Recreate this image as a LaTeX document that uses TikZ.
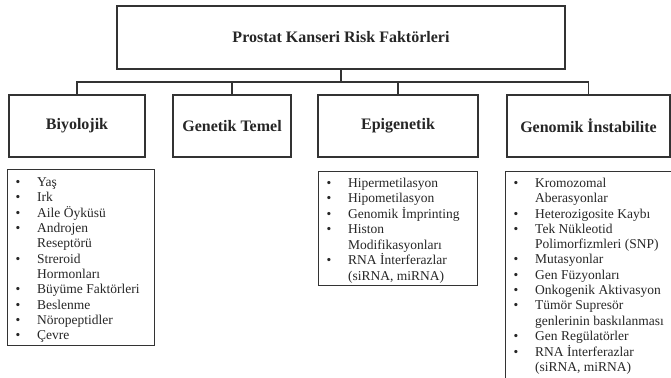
\documentclass[tikz,border=0pt]{standalone}
\usepackage{fontspec}
\setmainfont{Liberation Serif}
\usepackage{tikz}
\usetikzlibrary{positioning}

\begin{document}
\begin{tikzpicture}[x=1pt, y=-1pt, line join=miter,
    every node/.style={text=black!85},
    headbox/.style={draw=black!80, line width=2pt, inner sep=0pt, minimum height=62pt, font=\fontsize{16}{19}\selectfont\bfseries},
    listbox/.style={draw=black!80, line width=1.4pt, anchor=north west, inner sep=0pt},
    items/.style={anchor=north west, inner sep=0pt, font=\fontsize{13.5}{15.3}\selectfont},
    link/.style={draw=black!80, line width=1.5pt}]
    \useasboundingbox (0,0) rectangle (671,377);
    \clip (0,0) rectangle (671,377);

    \node[headbox, minimum width=448pt, minimum height=63pt] (risk) at (341,37.5) {Prostat Kanseri Risk Faktörleri};

    \node[headbox, minimum width=136pt] (biyo) at (77,126) {Biyolojik};
    \node[headbox, minimum width=118pt] (genetik) at (232,126) {Genetik Temel};
    \node[headbox, minimum width=160pt] (epi) at (398,126) {Epigenetik};
    \node[headbox, minimum width=163pt] (genomik) at (588.5,126) {Genomik İnstabilite};

    \coordinate (bus) at (341,82);
    \draw[link] (risk.south) -- (bus);
    \draw[link] (biyo.north) |- (bus) -| (genomik.north);
    \draw[link] (genetik.north) -- (genetik.north |- bus);
    \draw[link] (epi.north) -- (epi.north |- bus);

    \node[listbox, minimum width=147pt, minimum height=176pt] (biyolist) at (7,169) {};
    \node[items] (biyoitems) at ([xshift=8.5pt, yshift=-6.5pt]biyolist.north west) {%
        \begin{tabular}{@{}p{21.5pt}@{}l@{}}
        \textbullet & Yaş\\
        \textbullet & Irk\\
        \textbullet & Aile Öyküsü\\
        \textbullet & Androjen\\
                    & Reseptörü\\
        \textbullet & Streroid\\
                    & Hormonları\\
        \textbullet & Büyüme Faktörleri\\
        \textbullet & Beslenme\\
        \textbullet & Nöropeptidler\\
        \textbullet & Çevre
        \end{tabular}};

    \node[listbox, minimum width=159pt, minimum height=114pt] (epilist) at (318,171) {};
    \node[items] (epiitems) at ([xshift=8.5pt, yshift=-5.5pt]epilist.north west) {%
        \begin{tabular}{@{}p{21.5pt}@{}l@{}}
        \textbullet & Hipermetilasyon\\
        \textbullet & Hipometilasyon\\
        \textbullet & Genomik İmprinting\\
        \textbullet & Histon\\
                    & Modifikasyonları\\
        \textbullet & RNA İnterferazlar\\
                    & (siRNA, miRNA)
        \end{tabular}};

    \node[listbox, minimum width=180pt, minimum height=220pt] (genomiklist) at (505,171) {};
    \node[items] (genomikitems) at ([xshift=8.5pt, yshift=-5.5pt]genomiklist.north west) {%
        \begin{tabular}{@{}p{21.5pt}@{}l@{}}
        \textbullet & Kromozomal\\
                    & Aberasyonlar\\
        \textbullet & Heterozigosite Kaybı\\
        \textbullet & Tek Nükleotid\\
                    & Polimorfizmleri (SNP)\\
        \textbullet & Mutasyonlar\\
        \textbullet & Gen Füzyonları\\
        \textbullet & Onkogenik Aktivasyon\\
        \textbullet & Tümör Supresör\\
                    & genlerinin baskılanması\\
        \textbullet & Gen Regülatörler\\
        \textbullet & RNA İnterferazlar\\
                    & (siRNA, miRNA)
        \end{tabular}};
\end{tikzpicture}
\end{document}
